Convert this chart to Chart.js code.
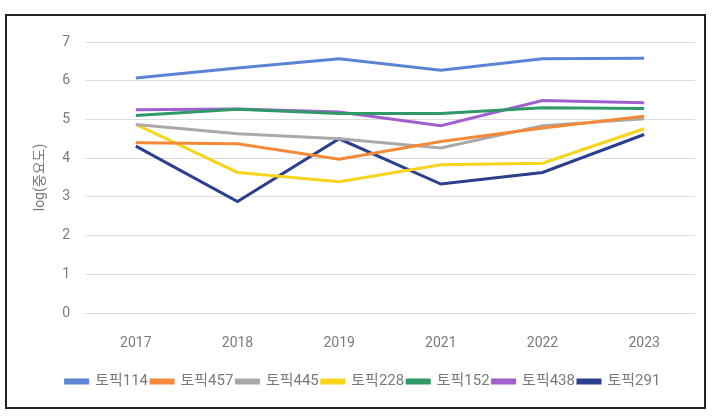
<!DOCTYPE html>
<html>
<head>
<meta charset="utf-8">
<script src="https://cdn.jsdelivr.net/npm/chart.js@4"></script>
<style>
  html, body { margin: 0; padding: 0; background: #fff; }
  #frame {
    position: absolute; left: 5px; top: 14px;
    width: 697px; height: 391px;
    border: 2px solid #222;
    background: #fff;
  }
  #frame canvas { display: block; }
</style>
</head>
<body>
<div id="frame"><canvas id="topicChart" width="697" height="391"></canvas></div>
<script>
// years on the x axis
const years = ['2017', '2018', '2019', '2021', '2022', '2023'];

// log(중요도) per topic
const topic114 = [6.07, 6.33, 6.57, 6.27, 6.57, 6.58];
const topic457 = [4.40, 4.37, 3.97, 4.43, 4.78, 5.08];
const topic445 = [4.87, 4.63, 4.50, 4.26, 4.84, 5.02];
const topic228 = [4.87, 3.63, 3.39, 3.83, 3.87, 4.76];
const topic152 = [5.10, 5.26, 5.15, 5.15, 5.30, 5.28];
const topic438 = [5.25, 5.27, 5.19, 4.84, 5.49, 5.43];
const topic291 = [4.31, 2.88, 4.50, 3.33, 3.63, 4.61];

const seriesNames = ['토픽114', '토픽457', '토픽445', '토픽228', '토픽152', '토픽438', '토픽291'];
const seriesValues = [topic114, topic457, topic445, topic228, topic152, topic438, topic291];
const seriesColors = ['#5b84d4', '#f4893a', '#a9a9a9', '#f7d51c', '#2f9a68', '#a25fcf', '#2c3f8e'];

const fontFamily = 'Roboto, "Noto Sans CJK KR", sans-serif';
const textColor = '#7a7a7a';

const datasets = seriesNames.map((name, i) => ({
    label: name,
    data: seriesValues[i],
    borderColor: seriesColors[i],
    backgroundColor: seriesColors[i],
    borderWidth: 3,
    pointRadius: 0,
    tension: 0,
    fill: false
}));

const ctx = document.getElementById('topicChart').getContext('2d');
new Chart(ctx, {
    type: 'line',
    data: { labels: years, datasets: datasets },
    options: {
        responsive: false,
        animation: false,
        layout: { padding: { left: 24, right: 9, top: 26, bottom: 8 } },
        plugins: {
            tooltip: { enabled: false },
            legend: {
                position: 'bottom',
                labels: {
                    color: textColor,
                    font: { family: fontFamily, size: 15 },
                    boxWidth: 22,
                    boxHeight: 3,
                    padding: 3
                }
            }
        },
        scales: {
            x: {
                offset: true,
                grid: { display: false, drawTicks: false },
                border: { display: false },
                ticks: {
                    color: textColor,
                    font: { family: fontFamily, size: 14 },
                    padding: 22
                },
                afterFit: function(scale) { scale.height = 58; }
            },
            y: {
                min: 0,
                max: 7,
                ticks: {
                    stepSize: 1,
                    color: textColor,
                    font: { family: fontFamily, size: 14 },
                    padding: 15
                },
                grid: { color: '#dcdcdc', lineWidth: 1, drawTicks: false },
                border: { display: false },
                title: {
                    display: true,
                    text: 'log(중요도)',
                    color: textColor,
                    font: { family: fontFamily, size: 14 },
                    padding: { top: 1, bottom: 0 }
                },
                afterFit: function(scale) { scale.width = 54; }
            }
        }
    }
});
</script>
</body>
</html>
